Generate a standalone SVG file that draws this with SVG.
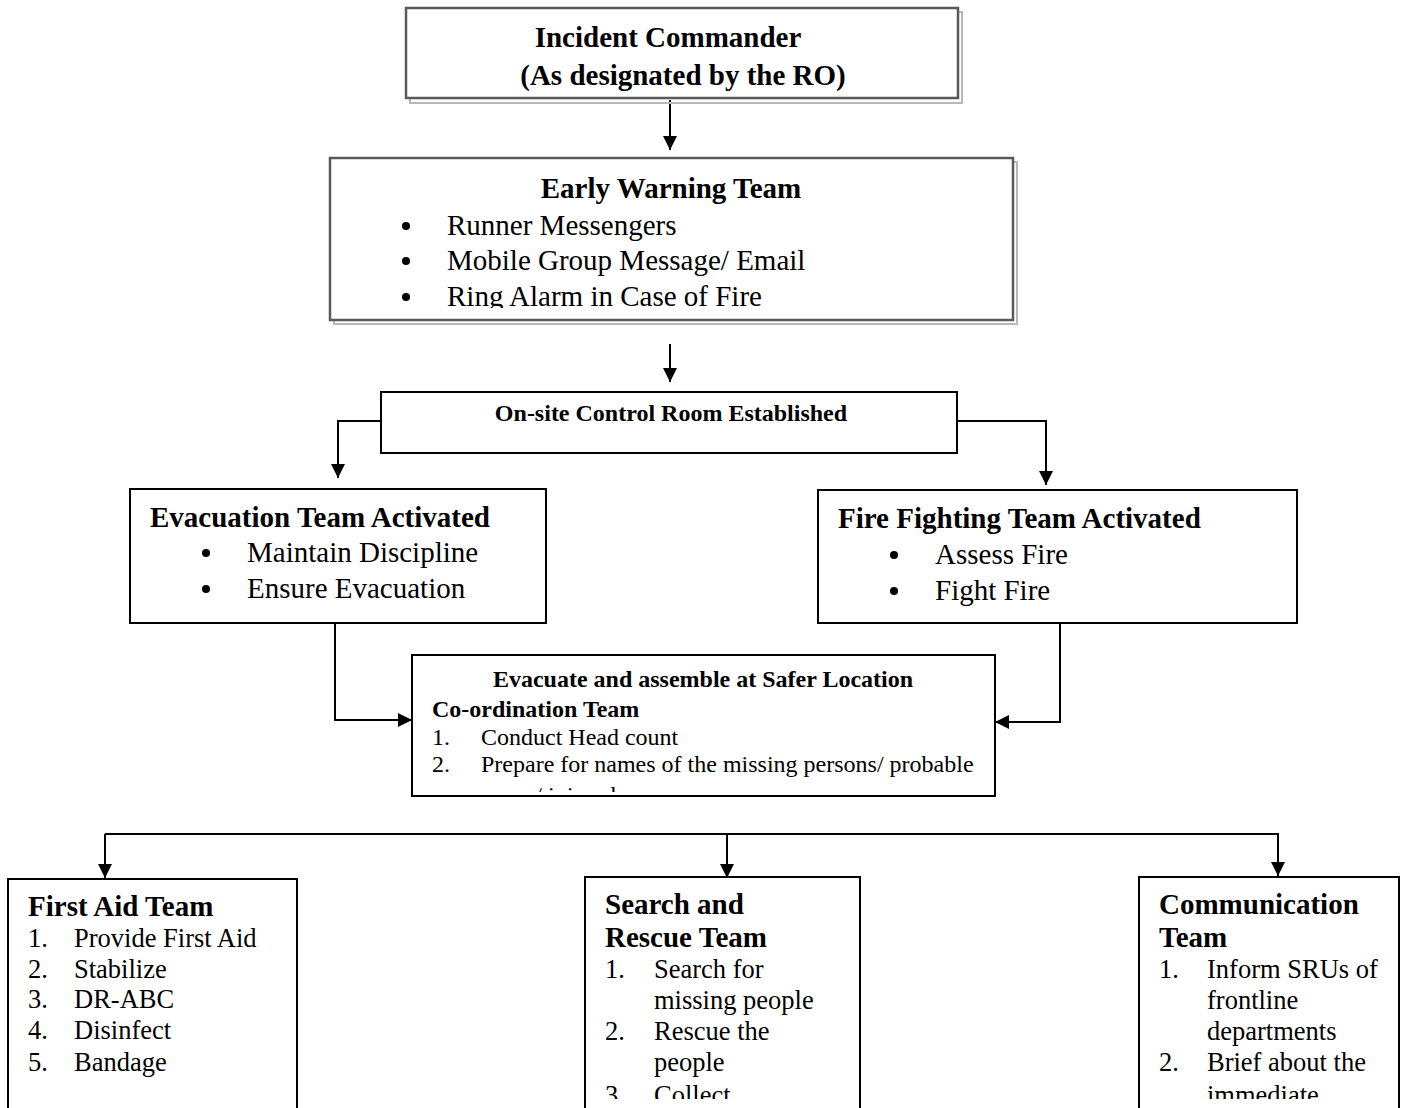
<svg xmlns="http://www.w3.org/2000/svg" width="1408" height="1108" viewBox="0 0 1408 1108">
<style>
.box{fill:#fff;stroke:#000;stroke-width:2}
.gbox{fill:#fff;stroke:#5a5a5a;stroke-width:2.5}
.shadow{fill:none;stroke:#b8b8b8;stroke-width:2}
.t{font-family:"Liberation Serif","Times New Roman",serif;fill:#000}
.b{font-weight:bold}
.s29{font-size:29px}
.s26{font-size:26.5px}
.s24{font-size:24px}
.c{text-anchor:middle}
.ln{fill:none;stroke:#000;stroke-width:2}
</style>
<defs>
<marker id="ah" markerUnits="userSpaceOnUse" markerWidth="14" markerHeight="14" viewBox="0 0 14 14" refX="14" refY="7" orient="auto">
<path d="M0,0 L14,7 L0,14 Z" fill="#000"/>
</marker>
<clipPath id="clipEW"><rect x="332" y="160" width="680" height="148"/></clipPath>
<clipPath id="clipCO"><rect x="413" y="656" width="581" height="136"/></clipPath>
<clipPath id="clipBottom"><rect x="0" y="870" width="1408" height="229"/></clipPath>
</defs>

<g id="connectors">
<path class="ln" d="M670,100 V150" marker-end="url(#ah)"/>
<path class="ln" d="M670,344 V382" marker-end="url(#ah)"/>
<path class="ln" d="M381,421 H338 V478" marker-end="url(#ah)"/>
<path class="ln" d="M957,421 H1046 V485" marker-end="url(#ah)"/>
<path class="ln" d="M335,624 V720 H412" marker-end="url(#ah)"/>
<path class="ln" d="M1060,624 V722 H995" marker-end="url(#ah)"/>
<path class="ln" d="M105,834 H1278 V876" marker-end="url(#ah)"/>
<path class="ln" d="M727,834 V878" marker-end="url(#ah)"/>
<path class="ln" d="M105,834 V878" marker-end="url(#ah)"/>
</g>

<g id="incident-commander">
<rect class="shadow" x="410" y="12" width="552" height="91"/>
<rect class="gbox" x="406" y="8" width="552" height="90"/>
<text class="t b s29 c" x="668" y="47">Incident Commander</text>
<text class="t b s29 c" x="683" y="85">(As designated by the RO)</text>
</g>

<g id="early-warning">
<rect class="shadow" x="334" y="162" width="683" height="162"/>
<rect class="gbox" x="330" y="158" width="683" height="162"/>
<g clip-path="url(#clipEW)">
<text class="t b s29 c" x="671" y="198">Early Warning Team</text>
<circle cx="406" cy="226" r="4"/>
<text class="t s29" x="447" y="235">Runner Messengers</text>
<circle cx="406" cy="261" r="4"/>
<text class="t s29" x="447" y="270">Mobile Group Message/ Email</text>
<circle cx="406" cy="297" r="4"/>
<text class="t s29" x="447" y="306">Ring Alarm in Case of Fire</text>
</g>
</g>

<g id="control-room">
<rect class="box" x="381" y="392" width="576" height="61"/>
<text class="t b s24 c" x="671" y="421">On-site Control Room Established</text>
</g>

<g id="evacuation-team">
<rect class="box" x="130" y="489" width="416" height="134"/>
<text class="t b s29" x="150" y="527">Evacuation Team Activated</text>
<circle cx="206" cy="553" r="4"/>
<text class="t s29" x="247" y="562">Maintain Discipline</text>
<circle cx="206" cy="589" r="4"/>
<text class="t s29" x="247" y="598">Ensure Evacuation</text>
</g>

<g id="fire-fighting-team">
<rect class="box" x="818" y="490" width="479" height="133"/>
<text class="t b s29" x="838" y="528">Fire Fighting Team Activated</text>
<circle cx="894" cy="555" r="4"/>
<text class="t s29" x="935" y="564">Assess Fire</text>
<circle cx="894" cy="591" r="4"/>
<text class="t s29" x="935" y="600">Fight Fire</text>
</g>

<g id="coordination">
<rect class="box" x="412" y="655" width="583" height="141"/>
<g clip-path="url(#clipCO)">
<text class="t b s24 c" x="703" y="687">Evacuate and assemble at Safer Location</text>
<text class="t b s24" x="432" y="717">Co-ordination Team</text>
<text class="t s24" x="432" y="745">1.</text>
<text class="t s24" x="481" y="745">Conduct Head count</text>
<text class="t s24" x="432" y="772">2.</text>
<text class="t s24" x="481" y="772">Prepare for names of the missing persons/ probable</text>
<text class="t s24" x="462" y="803">persons/ injured</text>
</g>
</g>

<g id="first-aid-team">
<path class="box" d="M8,1110 V879 H297 V1110"/>
<text class="t b s29" x="28" y="916">First Aid Team</text>
<text class="t s26" x="28" y="947">1.</text><text class="t s26" x="74" y="947">Provide First Aid</text>
<text class="t s26" x="28" y="978">2.</text><text class="t s26" x="74" y="978">Stabilize</text>
<text class="t s26" x="28" y="1008">3.</text><text class="t s26" x="74" y="1008">DR-ABC</text>
<text class="t s26" x="28" y="1039">4.</text><text class="t s26" x="74" y="1039">Disinfect</text>
<text class="t s26" x="28" y="1071">5.</text><text class="t s26" x="74" y="1071">Bandage</text>
</g>

<g id="search-rescue-team">
<path class="box" d="M585,1110 V877 H860 V1110"/>
<text class="t b s29" x="605" y="914">Search and</text>
<text class="t b s29" x="605" y="947">Rescue Team</text>
<text class="t s26" x="605" y="978">1.</text><text class="t s26" x="654" y="978">Search for</text>
<text class="t s26" x="654" y="1009">missing people</text>
<text class="t s26" x="605" y="1040">2.</text><text class="t s26" x="654" y="1040">Rescue the</text>
<text class="t s26" x="654" y="1071">people</text>
<g clip-path="url(#clipBottom)">
<text class="t s26" x="605" y="1104">3.</text><text class="t s26" x="654" y="1104">Collect</text>
</g>
</g>

<g id="communication-team">
<path class="box" d="M1139,1110 V877 H1399 V1110"/>
<text class="t b s29" x="1159" y="914">Communication</text>
<text class="t b s29" x="1159" y="947">Team</text>
<text class="t s26" x="1159" y="978">1.</text><text class="t s26" x="1207" y="978">Inform SRUs of</text>
<text class="t s26" x="1207" y="1009">frontline</text>
<text class="t s26" x="1207" y="1040">departments</text>
<text class="t s26" x="1159" y="1071">2.</text><text class="t s26" x="1207" y="1071">Brief about the</text>
<g clip-path="url(#clipBottom)">
<text class="t s26" x="1207" y="1104">immediate</text>
</g>
</g>
</svg>
